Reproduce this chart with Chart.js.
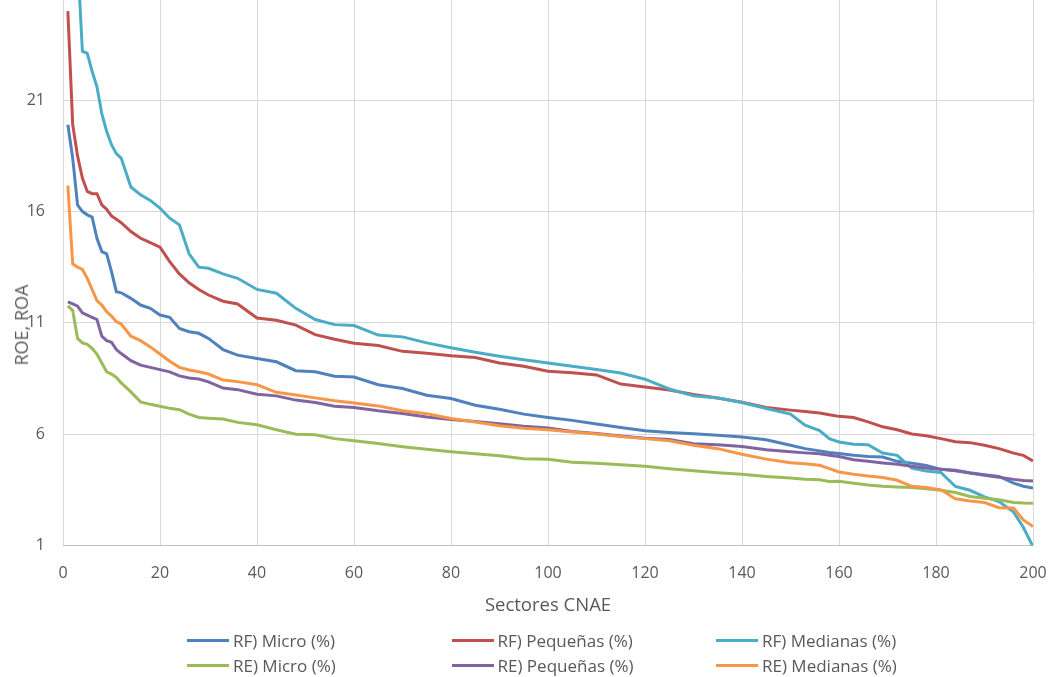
<!DOCTYPE html>
<html lang="es">
<head>
  <meta charset="UTF-8" />
  <title>ROE, ROA por sectores CNAE</title>
  <script src="https://cdn.jsdelivr.net/npm/chart.js"></script>
  <style>
    body {
      margin: 0;
      background: #fff;
      font-family: 'Open Sans', sans-serif;
    }
    .wrap {
      position: relative;
      width: 1051px;
      height: 677px;
    }
    #grafico {
      position: absolute;
      left: 0;
      top: 0;
    }
    .ytitle {
      position: absolute;
      left: 21px;
      top: 325px;
      transform: translate(-50%, -50%) rotate(-90deg);
      font-size: 18px;
      color: #595959;
      white-space: nowrap;
    }
    .leyenda {
      position: absolute;
      left: 187px;
      top: 628px;
      display: grid;
      grid-template-columns: repeat(3, 264.5px);
      grid-auto-rows: 25px;
    }
    .item {
      display: flex;
      align-items: center;
      font-size: 17px;
      color: #595959;
      white-space: nowrap;
    }
    .item .linea {
      display: inline-block;
      width: 42px;
      height: 3px;
      margin-right: 4px;
    }
  </style>
</head>
<body>
  <div class="wrap">
    <canvas id="grafico" width="1051" height="677"></canvas>
    <div class="ytitle">ROE, ROA</div>
    <div class="leyenda" id="leyenda"></div>
  </div>

  <script>
    // sectores CNAE ordenados (posicion en el ranking)
    const sectores = [1, 2, 3, 4, 5, 6, 7, 8, 9, 10, 11, 12, 14, 16, 18, 20, 22, 24, 26, 28, 30, 33, 36, 40, 44, 48,
      52, 56, 60, 65, 70, 75, 80, 85, 90, 95, 100, 105, 110, 115, 120, 125, 130, 135, 140, 145, 150, 153, 156, 158,
      160, 163, 166, 169, 172, 175, 178, 181, 184, 187, 190, 193, 196, 198, 200];

    const yTicks = [1, 6, 11, 16, 21];

    const rfMicro = [19.9, 18.4, 16.3, 16.0, 15.85, 15.75, 14.8, 14.2, 14.1, 13.3, 12.4, 12.35, 12.1, 11.8, 11.65,
      11.35, 11.25, 10.75, 10.6, 10.53, 10.3, 9.8, 9.55, 9.4, 9.25, 8.85, 8.8, 8.6, 8.57, 8.22, 8.05, 7.75, 7.6, 7.3,
      7.12, 6.9, 6.75, 6.62, 6.46, 6.3, 6.15, 6.08, 6.02, 5.95, 5.87, 5.75, 5.5, 5.35, 5.25, 5.18, 5.13, 5.05, 5.0,
      4.97, 4.78, 4.7, 4.6, 4.42, 4.38, 4.27, 4.18, 4.1, 3.8, 3.66, 3.58];

    const rfPequenas = [25.0, 19.9, 18.5, 17.5, 16.9, 16.8, 16.8, 16.3, 16.1, 15.8, 15.65, 15.5, 15.1, 14.8, 14.6,
      14.4, 13.75, 13.2, 12.8, 12.5, 12.25, 11.97, 11.85, 11.22, 11.12, 10.9, 10.47, 10.26, 10.08, 9.98, 9.72, 9.63,
      9.52, 9.44, 9.2, 9.05, 8.83, 8.76, 8.66, 8.25, 8.12, 7.98, 7.78, 7.62, 7.43, 7.2, 7.08, 7.02, 6.95, 6.87, 6.8,
      6.75, 6.55, 6.33, 6.2, 6.01, 5.93, 5.8, 5.66, 5.62, 5.5, 5.35, 5.15, 5.05, 4.8];

    const rfMedianas = [36, 30, 27.4, 23.2, 23.1, 22.3, 21.6, 20.4, 19.6, 19.0, 18.6, 18.4, 17.1, 16.75, 16.5, 16.15,
      15.7, 15.4, 14.1, 13.5, 13.45, 13.2, 13.0, 12.5, 12.33, 11.65, 11.15, 10.92, 10.88, 10.45, 10.37, 10.1, 9.88,
      9.68, 9.5, 9.34, 9.2, 9.05, 8.9, 8.75, 8.47, 8.03, 7.72, 7.62, 7.42, 7.15, 6.9, 6.4, 6.16, 5.8, 5.65, 5.55,
      5.53, 5.15, 5.05, 4.48, 4.35, 4.28, 3.65, 3.48, 3.18, 2.97, 2.5, 1.82, 0.95];

    const reMicro = [11.76, 11.55, 10.3, 10.1, 10.03, 9.85, 9.6, 9.2, 8.8, 8.7, 8.55, 8.3, 7.9, 7.45, 7.34, 7.25,
      7.16, 7.1, 6.9, 6.75, 6.72, 6.68, 6.53, 6.42, 6.2, 6.0, 5.97, 5.8, 5.7, 5.58, 5.44, 5.32, 5.21, 5.12, 5.03, 4.9,
      4.87, 4.74, 4.69, 4.63, 4.56, 4.45, 4.36, 4.27, 4.2, 4.1, 4.03, 3.98, 3.95, 3.87, 3.88, 3.8, 3.72, 3.66, 3.63,
      3.6, 3.55, 3.48, 3.38, 3.2, 3.12, 3.05, 2.93, 2.91, 2.9];

    const rePequenas = [11.94, 11.85, 11.75, 11.45, 11.35, 11.25, 11.15, 10.4, 10.2, 10.13, 9.8, 9.62, 9.3, 9.1, 9.0,
      8.9, 8.8, 8.62, 8.52, 8.48, 8.35, 8.07, 8.0, 7.79, 7.72, 7.53, 7.42, 7.25, 7.2, 7.05, 6.93, 6.77, 6.66, 6.57,
      6.47, 6.36, 6.28, 6.12, 6.03, 5.92, 5.82, 5.76, 5.57, 5.53, 5.45, 5.3, 5.21, 5.16, 5.12, 5.05, 5.0, 4.85, 4.78,
      4.71, 4.65, 4.56, 4.48, 4.42, 4.36, 4.25, 4.16, 4.07, 3.97, 3.92, 3.9];

    const reMedianas = [17.16, 13.65, 13.5, 13.4, 13.0, 12.5, 12.0, 11.8, 11.5, 11.3, 11.05, 10.95, 10.4, 10.2, 9.92,
      9.6, 9.28, 9.0, 8.88, 8.8, 8.7, 8.43, 8.36, 8.22, 7.88, 7.76, 7.63, 7.5, 7.4, 7.27, 7.05, 6.92, 6.7, 6.55,
      6.38, 6.27, 6.2, 6.1, 6.01, 5.9, 5.8, 5.7, 5.5, 5.35, 5.1, 4.88, 4.72, 4.67, 4.6, 4.45, 4.3, 4.2, 4.12, 4.05,
      3.93, 3.66, 3.6, 3.5, 3.1, 3.0, 2.93, 2.7, 2.68, 2.15, 1.85];

    const series = [
      { label: 'RF) Micro (%)', data: rfMicro, color: '#4F81BD' },
      { label: 'RF) Pequeñas (%)', data: rfPequenas, color: '#C0504D' },
      { label: 'RF) Medianas (%)', data: rfMedianas, color: '#4BACC6' },
      { label: 'RE) Micro (%)', data: reMicro, color: '#9BBB59' },
      { label: 'RE) Pequeñas (%)', data: rePequenas, color: '#8064A2' },
      { label: 'RE) Medianas (%)', data: reMedianas, color: '#F79646' }
    ];

    const gris = '#595959';
    const fuente = { family: 'Open Sans', size: 16 };

    new Chart(document.getElementById('grafico'), {
      type: 'line',
      data: {
        datasets: series.map((s, i) => ({
          label: s.label,
          data: sectores.map((x, j) => ({ x: x, y: s.data[j] })),
          borderColor: s.color,
          backgroundColor: s.color,
          borderWidth: 3,
          pointRadius: 0,
          tension: 0,
          order: series.length - i   // las ultimas series quedan encima, como en Excel
        }))
      },
      options: {
        responsive: false,
        animation: false,
        layout: { padding: { left: 0, right: 18, top: 0, bottom: 60 } },
        plugins: { legend: { display: false }, tooltip: { enabled: false } },
        scales: {
          x: {
            type: 'linear',
            min: 0,
            max: 200,
            ticks: { stepSize: 20, color: gris, font: fuente, padding: 18, maxRotation: 0 },
            grid: { color: '#D9D9D9', drawTicks: false },
            border: { color: '#BFBFBF' },
            title: { display: true, text: 'Sectores CNAE', color: gris, font: { family: 'Open Sans', size: 18.5 }, padding: 0 },
            afterFit: s => { s.height = 71.5; s.paddingLeft = 0; s.paddingRight = 0; }
          },
          y: {
            min: 1,
            max: 25.5,
            ticks: { color: gris, font: fuente, padding: 18 },
            afterBuildTicks: s => { s.ticks = yTicks.map(v => ({ value: v })); },
            grid: { color: '#D9D9D9', drawTicks: false },
            border: { display: false },
            afterFit: s => { s.width = 63; s.paddingTop = 0; s.paddingBottom = 0; }
          }
        }
      }
    });

    // leyenda en 3 columnas
    const leyenda = document.getElementById('leyenda');
    series.forEach(s => {
      const item = document.createElement('div');
      item.className = 'item';
      item.innerHTML = '<span class="linea" style="background:' + s.color + '"></span>' + s.label;
      leyenda.appendChild(item);
    });
  </script>
</body>
</html>
